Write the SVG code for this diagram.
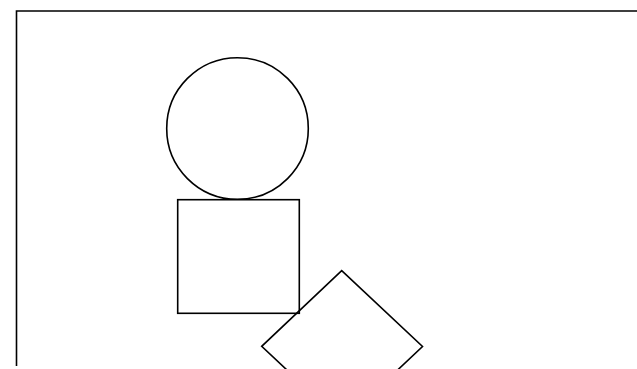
<svg xmlns="http://www.w3.org/2000/svg" width="637" height="369" viewBox="0 0 637 369">
<style>.s{fill:none;stroke:#000;stroke-width:1.6}</style>
<rect width="637" height="369" fill="#fff"/>
<g id="frame"><path class="s" d="M16.5,366 V11 H640"/></g>
<g id="circle"><circle class="s" cx="237.5" cy="128.5" r="70.8"/></g>
<g id="square"><rect class="s" x="177.7" y="199.7" width="121.6" height="113.6"/></g>
<g id="diamond"><polygon class="s" points="341.7,270.7 422.5,346.5 342.5,422.1 261.7,346.3"/></g>
<g id="connectors"></g>
</svg>
